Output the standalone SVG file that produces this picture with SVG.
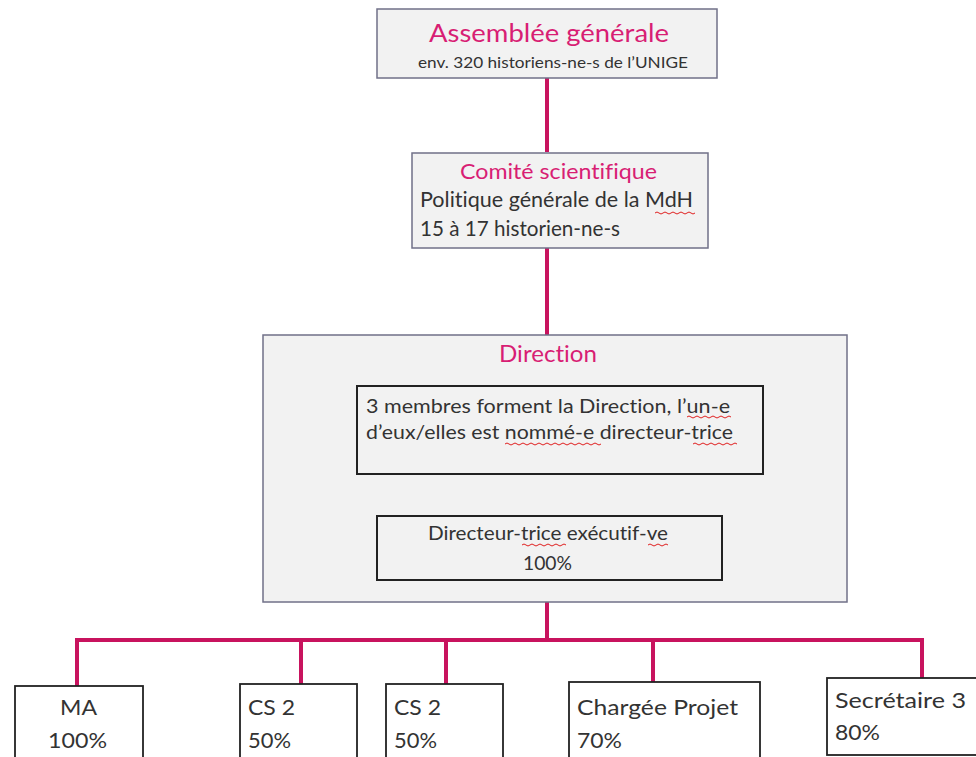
<svg xmlns="http://www.w3.org/2000/svg" width="976" height="757" viewBox="0 0 976 757">
<style>
.gbox{fill:#f2f2f2;stroke:#707088;stroke-width:1.5}
.wbox{fill:#ffffff;stroke:#222;stroke-width:1.8}
.ibox{fill:#f2f2f2;stroke:#222;stroke-width:2}
text{font-variant-ligatures:none;font-family:Lato,"Open Sans",sans-serif}
.t{fill:#333}
.p{fill:#d81e74}
.c{stroke:#c8135e;stroke-width:4;fill:none}
.sq{stroke:#e02020;stroke-width:1;fill:none}
</style>
<rect width="976" height="757" fill="#fff"/>
<g id="connectors">
<line class="c" x1="547" y1="78" x2="547" y2="152"/>
<line class="c" x1="547" y1="248" x2="547" y2="335"/>
<line class="c" x1="548" y1="474" x2="548" y2="516"/>
<line class="c" x1="547" y1="602" x2="547" y2="640"/>
<polyline class="c" points="77,686 77,640 922,640 922,679"/>
<line class="c" x1="301" y1="640" x2="301" y2="684"/>
<line class="c" x1="446" y1="640" x2="446" y2="684"/>
<line class="c" x1="653" y1="640" x2="653" y2="682"/>
</g>
<g id="assemblee">
<rect class="gbox" x="377" y="9" width="340" height="69"/>
<text class="p" x="429" y="42" font-size="25" textLength="240" lengthAdjust="spacingAndGlyphs">Assemblée générale</text>
<text class="t" x="418" y="68" font-size="15.5" textLength="270" lengthAdjust="spacingAndGlyphs">env. 320 historiens-ne-s de l’UNIGE</text>
</g>
<g id="comite">
<rect class="gbox" x="412" y="153" width="296" height="95"/>
<text class="p" x="460" y="179" font-size="21" textLength="197" lengthAdjust="spacingAndGlyphs">Comité scientifique</text>
<text class="t" x="420" y="207" font-size="21" textLength="273" lengthAdjust="spacingAndGlyphs">Politique générale de la MdH</text>
<text class="t" x="420" y="236" font-size="21" textLength="200" lengthAdjust="spacingAndGlyphs">15 à 17 historien-ne-s</text>
<path class="sq" d="M655,213 q2,-2 4,0 t4,0 t4,0 t4,0 t4,0 t4,0 t4,0 t4,0 t4,0 t4,0"/>
</g>
<g id="direction">
<rect class="gbox" x="263" y="335" width="584" height="267"/>
<text class="p" x="499" y="362" font-size="24" textLength="98" lengthAdjust="spacingAndGlyphs">Direction</text>
</g>
<g id="membres">
<rect class="ibox" x="357" y="386" width="406" height="88"/>
<text class="t" x="366" y="413" font-size="19.5" textLength="364" lengthAdjust="spacingAndGlyphs">3 membres forment la Direction, l’un-e</text>
<text class="t" x="366" y="439" font-size="19.5" textLength="367" lengthAdjust="spacingAndGlyphs">d’eux/elles est nommé-e directeur-trice</text>
<path class="sq" d="M687,417 q2,-2 4,0 t4,0 t4,0 t4,0 t4,0 t4,0 t4,0 t4,0 t4,0 t4,0 t4,0"/>
<path class="sq" d="M505,444 q2,-2 4,0 t4,0 t4,0 t4,0 t4,0 t4,0 t4,0 t4,0 t4,0 t4,0 t4,0 t4,0 t4,0 t4,0 t4,0 t4,0 t4,0 t4,0 t4,0 t4,0 t4,0 t4,0 t4,0 t4,0"/>
<path class="sq" d="M693,444 q2,-2 4,0 t4,0 t4,0 t4,0 t4,0 t4,0 t4,0 t4,0 t4,0 t4,0 t4,0"/>
</g>
<g id="executif">
<rect class="ibox" x="377" y="516" width="345" height="64"/>
<text class="t" x="428" y="540" font-size="20" textLength="240" lengthAdjust="spacingAndGlyphs">Directeur-trice exécutif-ve</text>
<text class="t" x="523" y="570" font-size="20" textLength="49" lengthAdjust="spacingAndGlyphs">100%</text>
<path class="sq" d="M522,545 q2,-2 4,0 t4,0 t4,0 t4,0 t4,0 t4,0 t4,0 t4,0 t4,0 t4,0 t4,0"/>
<path class="sq" d="M648,545 q2,-2 4,0 t4,0 t4,0 t4,0 t4,0"/>
</g>
<g id="ma">
<rect class="wbox" x="15" y="686" width="128" height="80"/>
<text class="t" x="60" y="715" font-size="22" textLength="37" lengthAdjust="spacingAndGlyphs">MA</text>
<text class="t" x="48" y="748" font-size="22" textLength="59" lengthAdjust="spacingAndGlyphs">100%</text>
</g>
<g id="cs2a">
<rect class="wbox" x="240" y="684" width="117" height="80"/>
<text class="t" x="248" y="715" font-size="22" textLength="47" lengthAdjust="spacingAndGlyphs">CS 2</text>
<text class="t" x="248" y="748" font-size="22" textLength="43" lengthAdjust="spacingAndGlyphs">50%</text>
</g>
<g id="cs2b">
<rect class="wbox" x="386" y="684" width="117" height="80"/>
<text class="t" x="394" y="715" font-size="22" textLength="47" lengthAdjust="spacingAndGlyphs">CS 2</text>
<text class="t" x="394" y="748" font-size="22" textLength="43" lengthAdjust="spacingAndGlyphs">50%</text>
</g>
<g id="chargee">
<rect class="wbox" x="569" y="682" width="191" height="84"/>
<text class="t" x="577" y="715" font-size="22" textLength="161" lengthAdjust="spacingAndGlyphs">Chargée Projet</text>
<text class="t" x="577" y="748" font-size="22" textLength="45" lengthAdjust="spacingAndGlyphs">70%</text>
</g>
<g id="secretaire">
<rect class="wbox" x="827" y="678" width="160" height="77"/>
<text class="t" x="835" y="708" font-size="22" textLength="131" lengthAdjust="spacingAndGlyphs">Secrétaire 3</text>
<text class="t" x="835" y="740" font-size="22" textLength="45" lengthAdjust="spacingAndGlyphs">80%</text>
</g>
</svg>
